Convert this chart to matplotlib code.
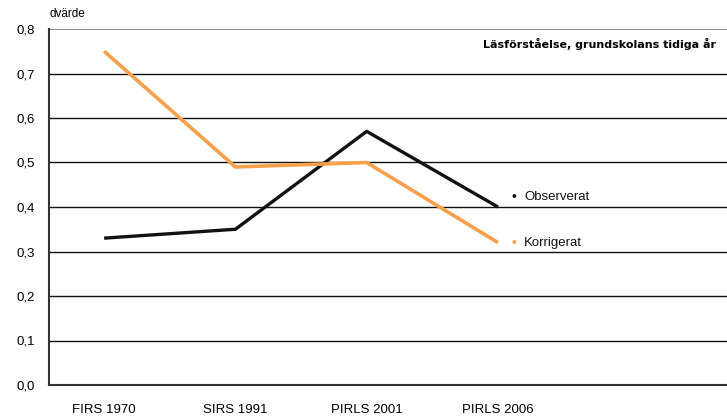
import matplotlib
matplotlib.use("Agg")
from matplotlib import pyplot as plt

plt.rcParams['font.family'] = ['Liberation Sans', 'DejaVu Sans']

# data
studies = ["FIRS 1970", "SIRS 1991", "PIRLS 2001", "PIRLS 2006"]
observerat = [0.33, 0.35, 0.57, 0.40]
korrigerat = [0.75, 0.49, 0.50, 0.32]
yticks = [0.0, 0.1, 0.2, 0.3, 0.4, 0.5, 0.6, 0.7, 0.8]

black = "#111111"
orange = "#F7A04C"

fig = plt.figure(figsize=(7.27, 4.19), dpi=100)
ax = fig.add_axes([49 / 727, 1 - 385 / 419, 1 - 49 / 727 + 0.01, (385 - 29) / 419])

x = list(range(len(studies)))
ax.plot(x, observerat, color=black, lw=2.4, solid_capstyle="butt", zorder=3)
ax.plot(x, korrigerat, color=orange, lw=2.6, solid_capstyle="butt", zorder=3)

for v in yticks[1:-1]:
    ax.axhline(v, color=black, lw=1.0, zorder=1)
ax.axhline(0.8, color="#777777", lw=1.2, zorder=1)

ax.set_xlim(-0.42, 4.8)
ax.set_ylim(0, 0.8)
ax.set_yticks(yticks)
ax.set_yticklabels([f"{v:.1f}".replace(".", ",") for v in yticks], fontsize=9.5)
ax.set_xticks(x)
ax.set_xticklabels(studies, fontsize=9.5)
ax.tick_params(length=0, pad=10)
ax.tick_params(axis="x", pad=14)

for side in ["top", "right"]:
    ax.spines[side].set_visible(False)
ax.spines["left"].set_color("#333333")
ax.spines["left"].set_linewidth(1.5)
ax.spines["bottom"].set_color("#333333")
ax.spines["bottom"].set_linewidth(1.5)

fig.text(50 / 727, 1 - 14 / 419, "dvärde", fontsize=8.5, va="center", ha="left")
fig.text(483 / 727, 1 - 44 / 419, "Läsförståelse, grundskolans tidiga år",
         fontsize=8, fontweight="bold", family="DejaVu Sans", va="center", ha="left")

ax.text(3.1, 0.423, "•", color=black, fontsize=10, va="center", ha="left")
ax.text(3.2, 0.423, "Observerat", color=black, fontsize=9.5, va="center", ha="left")
ax.text(3.1, 0.32, "•", color=orange, fontsize=10, va="center", ha="left")
ax.text(3.2, 0.32, "Korrigerat", color=black, fontsize=9.5, va="center", ha="left")

fig.savefig("out.png", dpi=100)
